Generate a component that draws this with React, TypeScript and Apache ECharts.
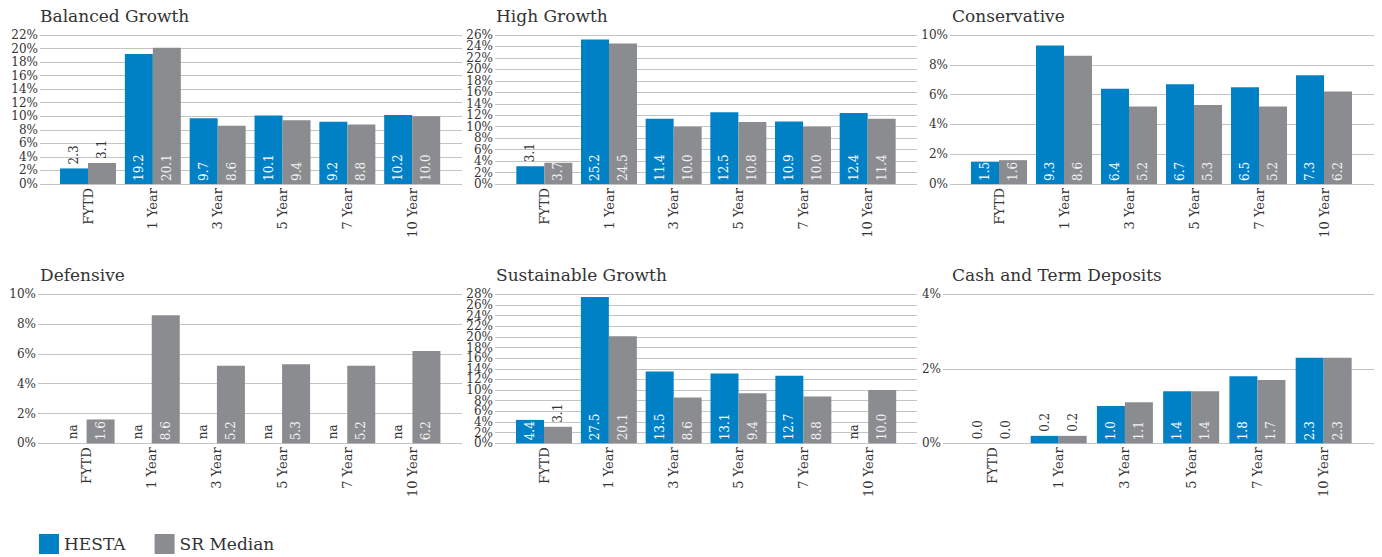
import React, { useEffect, useRef } from "react";
import * as echarts from "echarts";

// Return periods shown on every panel
const categories = ["FYTD", "1 Year", "3 Year", "5 Year", "7 Year", "10 Year"];

// Returns (% p.a.); null means "na"
const balancedHesta = [2.3, 19.2, 9.7, 10.1, 9.2, 10.2];
const balancedMedian = [3.1, 20.1, 8.6, 9.4, 8.8, 10.0];
const highHesta = [3.1, 25.2, 11.4, 12.5, 10.9, 12.4];
const highMedian = [3.7, 24.5, 10.0, 10.8, 10.0, 11.4];
const conservativeHesta = [1.5, 9.3, 6.4, 6.7, 6.5, 7.3];
const conservativeMedian = [1.6, 8.6, 5.2, 5.3, 5.2, 6.2];
const defensiveHesta = [null, null, null, null, null, null];
const defensiveMedian = [1.6, 8.6, 5.2, 5.3, 5.2, 6.2];
const sustainableHesta = [4.4, 27.5, 13.5, 13.1, 12.7, null];
const sustainableMedian = [3.1, 20.1, 8.6, 9.4, 8.8, 10.0];
const cashHesta = [0.0, 0.2, 1.0, 1.4, 1.8, 2.3];
const cashMedian = [0.0, 0.2, 1.1, 1.4, 1.7, 2.3];

// Percent tick values for each panel's value axis
const balancedTicks = [0, 2, 4, 6, 8, 10, 12, 14, 16, 18, 20, 22];
const highTicks = [0, 2, 4, 6, 8, 10, 12, 14, 16, 18, 20, 22, 24, 26];
const conservativeTicks = [0, 2, 4, 6, 8, 10];
const defensiveTicks = [0, 2, 4, 6, 8, 10];
const sustainableTicks = [0, 2, 4, 6, 8, 10, 12, 14, 16, 18, 20, 22, 24, 26, 28];
const cashTicks = [0, 2, 4];

const titles = [
  "Balanced Growth",
  "High Growth",
  "Conservative",
  "Defensive",
  "Sustainable Growth",
  "Cash and Term Deposits",
];
const tickSets = [balancedTicks, highTicks, conservativeTicks, defensiveTicks, sustainableTicks, cashTicks];
const hestaSets = [balancedHesta, highHesta, conservativeHesta, defensiveHesta, sustainableHesta, cashHesta];
const medianSets = [balancedMedian, highMedian, conservativeMedian, defensiveMedian, sustainableMedian, cashMedian];

const BLUE = "#0081c6";
const GREY = "#8b8c8f";
const TEXT = "#333333";
const FONT = "'DejaVu Serif', serif";

// Panel layout: value grid (gridlines + % labels) and bar grid (categories)
const PLOT_H = 149;
const panels = [
  { top: 35, gridLeft: 40, gridRight: 462, barLeft: 55.6, barWidth: 389, titleLeft: 40, titleTop: 7 },
  { top: 35, gridLeft: 495, gridRight: 917, barLeft: 512, barWidth: 388, titleLeft: 496, titleTop: 7 },
  { top: 35, gridLeft: 950, gridRight: 1374, barLeft: 966.5, barWidth: 390, titleLeft: 952, titleTop: 7 },
  { top: 294.3, gridLeft: 38, gridRight: 462, barLeft: 54, barWidth: 391, titleLeft: 40, titleTop: 266 },
  { top: 294.3, gridLeft: 495, gridRight: 917, barLeft: 511.6, barWidth: 389, titleLeft: 496, titleTop: 266 },
  { top: 294.3, gridLeft: 943, gridRight: 1374, barLeft: 959.3, barWidth: 397.5, titleLeft: 952, titleTop: 266 },
];

// Labels go inside the bar unless the bar is too short to hold them
const FIT_PX = 21.1;

function barData(values: (number | null)[], max: number, insideColor: string) {
  return values.map((v) => {
    if (v === null) {
      return {
        value: 0,
        label: {
          position: "top",
          distance: 4,
          color: TEXT,
          formatter: () => "na",
        },
      };
    }
    const px = (v / max) * PLOT_H;
    const inside = px >= FIT_PX;
    return {
      value: v,
      label: inside
        ? { position: "insideBottom", distance: 3, color: insideColor }
        : { position: "top", distance: 4, color: TEXT },
    };
  });
}

export default function App() {
  const ref = useRef<HTMLDivElement>(null);

  useEffect(() => {
    if (!ref.current) return;
    const chart = echarts.init(ref.current, null, { renderer: "svg" });

    const grid: any[] = [];
    const xAxis: any[] = [];
    const yAxis: any[] = [];
    const series: any[] = [];
    const title: any[] = [];

    panels.forEach((p, i) => {
      const ticks = tickSets[i];
      const max = ticks[ticks.length - 1];
      const gA = i * 2;
      const gB = i * 2 + 1;
      grid.push({ left: p.gridLeft, top: p.top, width: p.gridRight - p.gridLeft, height: PLOT_H });
      grid.push({ left: p.barLeft, top: p.top, width: p.barWidth, height: PLOT_H });

      // Gridlines and % labels: every tick is labelled, even where they crowd
      xAxis.push({ gridIndex: gA, type: "value", show: false, min: 0, max: 1 });
      yAxis.push({
        gridIndex: gA,
        type: "category",
        data: ticks.map((t) => `${t}%`),
        boundaryGap: false,
        axisLine: { show: false },
        axisTick: { show: false },
        axisLabel: {
          interval: 0,
          margin: 2,
          color: TEXT,
          fontSize: 12,
          lineHeight: 10,
          fontFamily: FONT,
        },
        splitLine: { show: true, interval: 0, lineStyle: { color: "#c4c4c4", width: 1 } },
      });

      xAxis.push({
        gridIndex: gB,
        type: "category",
        data: categories,
        axisLine: { show: false },
        axisTick: { show: false },
        axisLabel: { rotate: 90, margin: 4, color: TEXT, fontSize: 13, fontFamily: FONT, interval: 0 },
      });
      yAxis.push({ gridIndex: gB, type: "value", min: 0, max, show: false });

      const common = {
        type: "bar",
        xAxisIndex: gB,
        yAxisIndex: gB,
        barWidth: 28,
        barGap: "0%",
        label: {
          show: true,
          rotate: 90,
          align: "left",
          verticalAlign: "middle",
          fontSize: 12,
          fontFamily: FONT,
          formatter: (pr: any) => Number(pr.value).toFixed(1),
        },
      };
      series.push({
        ...common,
        name: "HESTA",
        itemStyle: { color: BLUE },
        data: barData(hestaSets[i], max, "#ffffff"),
      });
      series.push({
        ...common,
        name: "SR Median",
        itemStyle: { color: GREY },
        data: barData(medianSets[i], max, "#f2f2f2"),
      });

      title.push({
        text: titles[i],
        left: p.titleLeft,
        top: p.titleTop,
        padding: 0,
        textStyle: { fontFamily: FONT, fontSize: 17, fontWeight: "normal", color: TEXT },
      });
    });

    chart.setOption({
      animation: false,
      backgroundColor: "#ffffff",
      title,
      grid,
      xAxis,
      yAxis,
      series,
      legend: {
        data: ["HESTA", "SR Median"],
        left: 39,
        top: 534,
        padding: 0,
        icon: "rect",
        itemWidth: 20,
        itemHeight: 20,
        itemGap: 29,
        textStyle: { fontFamily: FONT, fontSize: 17, color: TEXT },
      },
    });

    return () => chart.dispose();
  }, []);

  return (
    <div
      ref={ref}
      style={{ position: "absolute", left: 0, top: 0, width: 1382, height: 557 }}
    />
  );
}
